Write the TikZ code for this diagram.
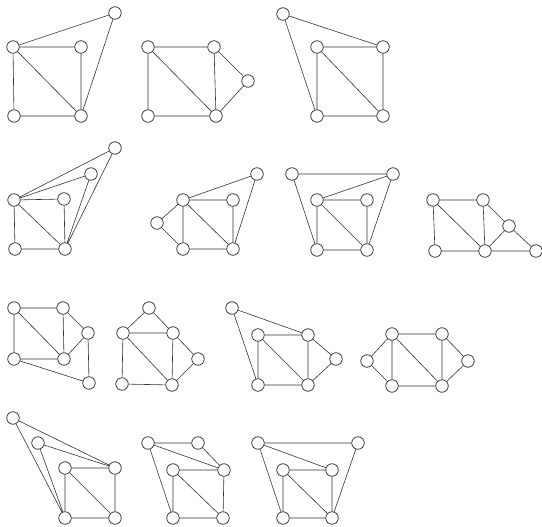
\documentclass[tikz,border=0pt]{standalone}
\begin{document}
\begin{tikzpicture}[x=1pt,y=-1pt,
  vtx/.style={circle,draw=black!85,line width=0.7pt,minimum size=12.5pt,inner sep=0pt,fill=white},
  edg/.style={draw=black!80,line width=0.6pt}]
\useasboundingbox (0,0) rectangle (542,527);
% Graph 1
\node[vtx] (a1t) at (115,13) {};
\node[vtx] (a1a) at (13,47) {};
\node[vtx] (a1b) at (81,47) {};
\node[vtx] (a1c) at (14,116) {};
\node[vtx] (a1d) at (81,116) {};
\path[edg] (a1a)--(a1b) (a1a)--(a1c) (a1a)--(a1d) (a1b)--(a1d) (a1c)--(a1d) (a1a)--(a1t) (a1t)--(a1d);
% Graph 2
\node[vtx] (a2a) at (148,47) {};
\node[vtx] (a2b) at (214,47) {};
\node[vtx] (a2e) at (248,81) {};
\node[vtx] (a2c) at (148,116) {};
\node[vtx] (a2d) at (216,116) {};
\path[edg] (a2a)--(a2b) (a2a)--(a2c) (a2a)--(a2d) (a2b)--(a2d) (a2c)--(a2d) (a2b)--(a2e) (a2e)--(a2d);
% Graph 3
\node[vtx] (a3t) at (283,14) {};
\node[vtx] (a3a) at (317,47) {};
\node[vtx] (a3b) at (383,47) {};
\node[vtx] (a3c) at (317,116) {};
\node[vtx] (a3d) at (383,116) {};
\path[edg] (a3t)--(a3b) (a3t)--(a3c) (a3a)--(a3b) (a3a)--(a3c) (a3a)--(a3d) (a3b)--(a3d) (a3c)--(a3d);
% Graph 4
\node[vtx] (b1s) at (115,148) {};
\node[vtx] (b1t) at (91,174) {};
\node[vtx] (b1a) at (14,200) {};
\node[vtx] (b1b) at (64,199) {};
\node[vtx] (b1c) at (15,249) {};
\node[vtx] (b1d) at (65,249) {};
\path[edg] (b1a)--(b1s) (b1a)--(b1t) (b1a)--(b1b) (b1a)--(b1c) (b1a)--(b1d) (b1b)--(b1d) (b1c)--(b1d) (b1t)--(b1d) (b1s)--(b1d);
% Graph 5
\node[vtx] (b2t) at (257,174) {};
\node[vtx] (b2a) at (183,200) {};
\node[vtx] (b2b) at (233,200) {};
\node[vtx] (b2l) at (157,223) {};
\node[vtx] (b2c) at (183,249) {};
\node[vtx] (b2d) at (233,249) {};
\path[edg] (b2a)--(b2t) (b2t)--(b2d) (b2a)--(b2b) (b2b)--(b2d) (b2a)--(b2d) (b2a)--(b2c) (b2c)--(b2d) (b2l)--(b2a) (b2l)--(b2c);
% Graph 6
\node[vtx] (b3p) at (292,174) {};
\node[vtx] (b3q) at (393,174) {};
\node[vtx] (b3a) at (317,200) {};
\node[vtx] (b3b) at (367,200) {};
\node[vtx] (b3c) at (317,250) {};
\node[vtx] (b3d) at (367,250) {};
\path[edg] (b3p)--(b3q) (b3p)--(b3c) (b3a)--(b3q) (b3q)--(b3d) (b3a)--(b3b) (b3a)--(b3c) (b3a)--(b3d) (b3b)--(b3d) (b3c)--(b3d);
% Graph 7
\node[vtx] (b4a) at (433,200) {};
\node[vtx] (b4b) at (483,200) {};
\node[vtx] (b4e) at (509,226) {};
\node[vtx] (b4c) at (435,251) {};
\node[vtx] (b4d) at (485,251) {};
\node[vtx] (b4f) at (536,251) {};
\path[edg] (b4a)--(b4b) (b4a)--(b4c) (b4a)--(b4d) (b4b)--(b4d) (b4c)--(b4d) (b4b)--(b4e) (b4e)--(b4d) (b4e)--(b4f) (b4d)--(b4f);
% Graph 8
\node[vtx] (c1a) at (14,308) {};
\node[vtx] (c1b) at (63,308) {};
\node[vtx] (c1e) at (88,333) {};
\node[vtx] (c1c) at (14,359) {};
\node[vtx] (c1d) at (64,359) {};
\node[vtx] (c1f) at (89,383) {};
\path[edg] (c1a)--(c1b) (c1a)--(c1c) (c1a)--(c1d) (c1b)--(c1d) (c1c)--(c1d) (c1b)--(c1e) (c1e)--(c1d) (c1e)--(c1f) (c1c)--(c1f);
% Graph 9
\node[vtx] (c2t) at (149,308) {};
\node[vtx] (c2a) at (123,333) {};
\node[vtx] (c2b) at (173,333) {};
\node[vtx] (c2e) at (198,359) {};
\node[vtx] (c2c) at (122,384) {};
\node[vtx] (c2d) at (172,385) {};
\path[edg] (c2t)--(c2a) (c2t)--(c2b) (c2a)--(c2b) (c2a)--(c2c) (c2a)--(c2d) (c2b)--(c2d) (c2c)--(c2d) (c2b)--(c2e) (c2e)--(c2d);
% Graph 10
\node[vtx] (c3t) at (232,308) {};
\node[vtx] (c3a) at (258,335) {};
\node[vtx] (c3b) at (308,335) {};
\node[vtx] (c3e) at (336,359) {};
\node[vtx] (c3c) at (258,385) {};
\node[vtx] (c3d) at (308,385) {};
\path[edg] (c3t)--(c3b) (c3t)--(c3c) (c3a)--(c3b) (c3a)--(c3c) (c3a)--(c3d) (c3b)--(c3d) (c3c)--(c3d) (c3b)--(c3e) (c3e)--(c3d);
% Graph 11
\node[vtx] (c4l) at (367,361) {};
\node[vtx] (c4a) at (392,334) {};
\node[vtx] (c4b) at (442,334) {};
\node[vtx] (c4r) at (468,361) {};
\node[vtx] (c4c) at (392,386) {};
\node[vtx] (c4d) at (442,386) {};
\path[edg] (c4l)--(c4a) (c4l)--(c4c) (c4a)--(c4b) (c4a)--(c4c) (c4a)--(c4d) (c4b)--(c4d) (c4c)--(c4d) (c4b)--(c4r) (c4r)--(c4d);
% Graph 12
\node[vtx] (d1s) at (13,418) {};
\node[vtx] (d1t) at (38,443) {};
\node[vtx] (d1a) at (65,468) {};
\node[vtx] (d1b) at (115,468) {};
\node[vtx] (d1c) at (65,518) {};
\node[vtx] (d1d) at (115,518) {};
\path[edg] (d1s)--(d1b) (d1s)--(d1c) (d1t)--(d1b) (d1t)--(d1c) (d1a)--(d1b) (d1a)--(d1c) (d1a)--(d1d) (d1b)--(d1d) (d1c)--(d1d);
% Graph 13
\node[vtx] (d2p) at (148,443) {};
\node[vtx] (d2q) at (198,443) {};
\node[vtx] (d2a) at (173,470) {};
\node[vtx] (d2b) at (224,470) {};
\node[vtx] (d2c) at (173,518) {};
\node[vtx] (d2d) at (223,518) {};
\path[edg] (d2p)--(d2q) (d2p)--(d2b) (d2p)--(d2c) (d2q)--(d2b) (d2a)--(d2b) (d2a)--(d2c) (d2a)--(d2d) (d2b)--(d2d) (d2c)--(d2d);
% Graph 14
\node[vtx] (d3p) at (258,443) {};
\node[vtx] (d3q) at (358,443) {};
\node[vtx] (d3a) at (283,470) {};
\node[vtx] (d3b) at (332,470) {};
\node[vtx] (d3c) at (283,518) {};
\node[vtx] (d3d) at (332,518) {};
\path[edg] (d3p)--(d3q) (d3p)--(d3b) (d3p)--(d3c) (d3q)--(d3d) (d3a)--(d3b) (d3a)--(d3c) (d3a)--(d3d) (d3b)--(d3d) (d3c)--(d3d);
\end{tikzpicture}
\end{document}
